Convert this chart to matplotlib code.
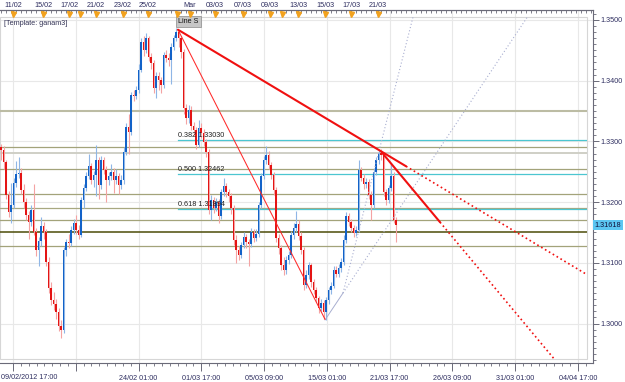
import matplotlib
matplotlib.use('Agg')
import matplotlib.pyplot as plt
import matplotlib.transforms as mtransforms
from matplotlib.patches import Rectangle
from matplotlib.ticker import FixedLocator, MultipleLocator, NullFormatter
import numpy as np

plt.rcParams['font.family'] = ['Liberation Sans', 'DejaVu Sans']

# ---------------- data ----------------
opens = [1.3290, 1.3286, 1.3266, 1.3212, 1.3184, 1.3195, 1.3231, 1.3246, 1.3248, 1.3220,
         1.3200, 1.3179, 1.3167, 1.3187, 1.3151, 1.3121, 1.3136, 1.3161, 1.3151, 1.3101,
         1.3058, 1.3039, 1.3032, 1.3019, 1.2996, 1.2989, 1.3121, 1.3134, 1.3133, 1.3154,
         1.3166, 1.3154, 1.3146, 1.3203, 1.3223, 1.3243, 1.3259, 1.3236, 1.3245, 1.3269,
         1.3228, 1.3269, 1.3253, 1.3236, 1.3243, 1.3250, 1.3236, 1.3243, 1.3228, 1.3236,
         1.3283, 1.3324, 1.3315, 1.3376, 1.3375, 1.3385, 1.3418, 1.3464, 1.3451, 1.3470,
         1.3439, 1.3429, 1.3388, 1.3408, 1.3401, 1.3393, 1.3442, 1.3437, 1.3434, 1.3456,
         1.3470, 1.3480, 1.3470, 1.3447, 1.3355, 1.3339, 1.3352, 1.3325, 1.3319, 1.3294,
         1.3322, 1.3314, 1.3299, 1.3283, 1.3187, 1.3203, 1.3190, 1.3200, 1.3177, 1.3217,
         1.3227, 1.3217, 1.3210, 1.3190, 1.3138, 1.3121, 1.3113, 1.3129, 1.3143, 1.3134,
         1.3131, 1.3151, 1.3141, 1.3147, 1.3195, 1.3243, 1.3269, 1.3278, 1.3261, 1.3245,
         1.3220, 1.3141, 1.3124, 1.3096, 1.3088, 1.3105, 1.3113, 1.3146, 1.3157, 1.3164,
         1.3144, 1.3121, 1.3063, 1.3080, 1.3096, 1.3068, 1.3055, 1.3042, 1.3026, 1.3034,
         1.3019, 1.3039, 1.3055, 1.3062, 1.3088, 1.3082, 1.3091, 1.3101, 1.3138, 1.3177,
         1.3167, 1.3157, 1.3149, 1.3154, 1.3253, 1.3240, 1.3230, 1.3233, 1.3212, 1.3195,
         1.3250, 1.3269, 1.3281, 1.3278, 1.3217, 1.3203, 1.3223, 1.3243, 1.3171]

highs = [1.3296, 1.3292, 1.3270, 1.3218, 1.3231, 1.3240, 1.3268, 1.3274, 1.3256, 1.3230,
         1.3206, 1.3186, 1.3195, 1.3230, 1.3158, 1.3142, 1.3175, 1.3168, 1.3156, 1.3110,
         1.3068, 1.3052, 1.3040, 1.3025, 1.3005, 1.3126, 1.3140, 1.3148, 1.3160, 1.3172,
         1.3178, 1.3162, 1.3208, 1.3230, 1.3250, 1.3280, 1.3264, 1.3252, 1.3294, 1.3274,
         1.3276, 1.3275, 1.3259, 1.3250, 1.3262, 1.3256, 1.3255, 1.3248, 1.3244, 1.3290,
         1.3330, 1.3345, 1.3382, 1.3384, 1.3392, 1.3428, 1.3470, 1.3474, 1.3478, 1.3474,
         1.3446, 1.3434, 1.3414, 1.3415, 1.3406, 1.3448, 1.3450, 1.3445, 1.3462, 1.3476,
         1.3487, 1.3484, 1.3474, 1.3452, 1.3362, 1.3360, 1.3358, 1.3332, 1.3324, 1.3335,
         1.3330, 1.3320, 1.3304, 1.3288, 1.3212, 1.3208, 1.3206, 1.3205, 1.3222, 1.3240,
         1.3232, 1.3222, 1.3215, 1.3195, 1.3145, 1.3128, 1.3135, 1.3150, 1.3148, 1.3140,
         1.3158, 1.3156, 1.3155, 1.3200, 1.3248, 1.3276, 1.3292, 1.3284, 1.3266, 1.3250,
         1.3225, 1.3148, 1.3130, 1.3110, 1.3112, 1.3120, 1.3152, 1.3166, 1.3185, 1.3170,
         1.3150, 1.3126, 1.3088, 1.3102, 1.3100, 1.3074, 1.3060, 1.3046, 1.3040, 1.3038,
         1.3044, 1.3060, 1.3068, 1.3095, 1.3094, 1.3098, 1.3108, 1.3145, 1.3183, 1.3182,
         1.3172, 1.3162, 1.3160, 1.3270, 1.3258, 1.3246, 1.3240, 1.3238, 1.3218, 1.3256,
         1.3275, 1.3286, 1.3287, 1.3282, 1.3222, 1.3228, 1.3265, 1.3250, 1.3176]

lows = [1.3270, 1.3255, 1.3205, 1.3176, 1.3165, 1.3190, 1.3225, 1.3240, 1.3214, 1.3190,
        1.3170, 1.3140, 1.3160, 1.3145, 1.3112, 1.3095, 1.3128, 1.3140, 1.3095, 1.3050,
        1.3030, 1.3022, 1.3008, 1.2988, 1.2976, 1.2985, 1.3112, 1.3125, 1.3128, 1.3148,
        1.3148, 1.3140, 1.3142, 1.3190, 1.3218, 1.3238, 1.3230, 1.3225, 1.3210, 1.3205,
        1.3222, 1.3246, 1.3200, 1.3228, 1.3236, 1.3215, 1.3230, 1.3214, 1.3222, 1.3230,
        1.3278, 1.3280, 1.3310, 1.3366, 1.3370, 1.3380, 1.3414, 1.3440, 1.3446, 1.3432,
        1.3420, 1.3380, 1.3372, 1.3385, 1.3380, 1.3388, 1.3430, 1.3425, 1.3395, 1.3450,
        1.3465, 1.3455, 1.3438, 1.3345, 1.3328, 1.3330, 1.3318, 1.3310, 1.3288, 1.3290,
        1.3305, 1.3292, 1.3275, 1.3180, 1.3170, 1.3182, 1.3185, 1.3165, 1.3172, 1.3210,
        1.3208, 1.3200, 1.3180, 1.3130, 1.3100, 1.3105, 1.3108, 1.3125, 1.3125, 1.3095,
        1.3126, 1.3135, 1.3136, 1.3142, 1.3190, 1.3238, 1.3262, 1.3255, 1.3238, 1.3212,
        1.3135, 1.3115, 1.3088, 1.3080, 1.3082, 1.3098, 1.3108, 1.3140, 1.3150, 1.3138,
        1.3115, 1.3055, 1.3058, 1.3074, 1.3060, 1.3048, 1.3035, 1.3018, 1.3020, 1.3008,
        1.3006, 1.3032, 1.3048, 1.3058, 1.3076, 1.3077, 1.3085, 1.3096, 1.3133, 1.3160,
        1.3150, 1.3142, 1.3144, 1.3150, 1.3234, 1.3222, 1.3224, 1.3205, 1.3170, 1.3190,
        1.3244, 1.3262, 1.3270, 1.3210, 1.3196, 1.3198, 1.3218, 1.3165, 1.3134]

closes = [1.3286, 1.3266, 1.3212, 1.3184, 1.3195, 1.3231, 1.3246, 1.3248, 1.3220, 1.3200,
          1.3179, 1.3167, 1.3187, 1.3151, 1.3121, 1.3136, 1.3161, 1.3151, 1.3101, 1.3058,
          1.3039, 1.3032, 1.3019, 1.2996, 1.2989, 1.3121, 1.3134, 1.3133, 1.3154, 1.3166,
          1.3154, 1.3146, 1.3203, 1.3223, 1.3243, 1.3259, 1.3236, 1.3245, 1.3269, 1.3228,
          1.3269, 1.3253, 1.3236, 1.3243, 1.3250, 1.3236, 1.3243, 1.3228, 1.3236, 1.3283,
          1.3324, 1.3315, 1.3376, 1.3375, 1.3385, 1.3418, 1.3464, 1.3451, 1.3470, 1.3439,
          1.3429, 1.3388, 1.3408, 1.3401, 1.3393, 1.3442, 1.3437, 1.3434, 1.3456, 1.3470,
          1.3480, 1.3470, 1.3447, 1.3355, 1.3339, 1.3352, 1.3325, 1.3319, 1.3294, 1.3322,
          1.3314, 1.3299, 1.3283, 1.3187, 1.3203, 1.3190, 1.3200, 1.3177, 1.3217, 1.3227,
          1.3217, 1.3210, 1.3190, 1.3138, 1.3121, 1.3113, 1.3129, 1.3143, 1.3134, 1.3131,
          1.3151, 1.3141, 1.3147, 1.3195, 1.3243, 1.3269, 1.3278, 1.3261, 1.3245, 1.3220,
          1.3141, 1.3124, 1.3096, 1.3088, 1.3105, 1.3113, 1.3146, 1.3157, 1.3164, 1.3144,
          1.3121, 1.3063, 1.3080, 1.3096, 1.3068, 1.3055, 1.3042, 1.3026, 1.3034, 1.3019,
          1.3039, 1.3055, 1.3062, 1.3088, 1.3082, 1.3091, 1.3101, 1.3138, 1.3177, 1.3167,
          1.3157, 1.3149, 1.3154, 1.3253, 1.3240, 1.3230, 1.3233, 1.3212, 1.3195, 1.3250,
          1.3269, 1.3281, 1.3278, 1.3217, 1.3203, 1.3223, 1.3243, 1.3171, 1.31618]

current_price = 1.31618

# horizontal levels
level_prices = [1.3350, 1.3291, 1.3281, 1.3254, 1.3213, 1.3190, 1.3171, 1.3150, 1.3127]
level_colors = ['#bcbca4', '#a3a37a', '#cfcfc6', '#a3a37a', '#a3a37a', '#a8a880',
                '#a3a37a', '#4c4c08', '#a3a37a']
level_widths = [1.5, 0.9, 1.4, 0.9, 0.9, 0.9, 0.9, 1.1, 0.9]

# fibonacci retracement
fib_high = 1.34869
fib_low = 1.30055
fib_ratios = [0.382, 0.5, 0.618]
fib_start = 70.8

# trend lines: anchor points (bar index, price)
line_s_x = [70.8, 152.3]
line_s_y = [1.3484, 1.3283]
line_s_solid_end = 162.0
line2_x = [152.3, 175.6]
line2_y = [1.3282, 1.3167]
thin_x = [70.8, 129.6]
thin_y = [1.3484, 1.3007]
fanA_x = [129.6, 136.8]
fanA_y = [1.30058, 1.30502]
fanB_x = [136.8, 164.8]
fanB_y = [1.30502, 1.35049]

# axis labels
bottom_tick_pos = [4.8, 29.9, 55.0, 80.1, 105.2, 130.3, 155.4, 180.5, 205.6, 230.7]
bottom_labels = ['', '', '24/02 01:00', '01/03 17:00', '05/03 09:00', '15/03 01:00',
                 '21/03 17:00', '26/03 09:00', '31/03 01:00', '04/04 17:00']
first_label = '09/02/2012 17:00'
top_tick_pos = [4.8, 16.8, 27.2, 38.0, 48.8, 58.8, 75.6, 85.6, 96.8, 107.6, 118.8,
                129.6, 140.0, 150.8]
top_labels = ['11/02', '15/02', '17/02', '21/02', '23/02', '25/02', 'Mar', '03/03',
              '07/03', '09/03', '13/03', '15/03', '17/03', '21/03']
top_marker_pos = top_tick_pos + [31.6, 70.4, 112.4]
y_major = [1.30, 1.31, 1.32, 1.33, 1.34, 1.35]

# ---------------- figure ----------------
W, H = 625, 382
fig = plt.figure(figsize=(W / 100, H / 100), dpi=100)
ax = fig.add_axes([0, (H - 363) / H, 593 / W, 353 / H])
ax.set_xlim(-0.4, 236.8)
ax.set_ylim(1.293493, 1.351647)

txt_col = '#2e2e60'
axis_col = '#6a6a78'
fs = 5.2

# inner border / clip rect
inner = Rectangle((0, 4 / 353), 587 / 593, 342 / 353, transform=ax.transAxes,
                  fill=False, ec='#d6d6d6', lw=0.8, zorder=1)
ax.add_patch(inner)

# grid
for xp in bottom_tick_pos:
    ax.axvline(xp, color='#e8e8e8', lw=0.8, zorder=0)
for yp in y_major:
    ax.axhline(yp, color='#e8e8e8', lw=0.8, zorder=0)

# levels
for p, c, w in zip(level_prices, level_colors, level_widths):
    ln, = ax.plot([-1, 300], [p, p], color=c, lw=w, zorder=2, solid_capstyle='butt')
    ln.set_clip_path(inner)

# fib lines
for r in fib_ratios:
    lv = fib_high - r * (fib_high - fib_low)
    ln, = ax.plot([fib_start, 300], [lv, lv], color='#4cc6d0', lw=0.9, zorder=2.2)
    ln.set_clip_path(inner)
    ax.text(fib_start, lv + 0.00012, f'{r:.3f} {lv:.5f}', fontsize=fs, color='#222222',
            ha='left', va='bottom', zorder=6)

# candles
x = np.arange(len(closes))
o = np.array(opens)
c = np.array(closes)
h = np.array(highs)
l = np.array(lows)
up = c >= o
dn = ~up
body_lo = np.minimum(o, c)
body_h = np.maximum(np.abs(c - o), 0.00014)
ax.vlines(x[up], l[up], h[up], color='#8fb6e6', lw=0.8, zorder=3)
ax.vlines(x[dn], l[dn], h[dn], color='#f4a3a3', lw=0.8, zorder=3)
ax.bar(x[up], body_h[up], bottom=body_lo[up], width=0.76, color='#1262c8', lw=0, zorder=4)
ax.bar(x[dn], body_h[dn], bottom=body_lo[dn], width=0.76, color='#e41414', lw=0, zorder=4)


def line_at(xs, ys, xq):
    k = (ys[1] - ys[0]) / (xs[1] - xs[0])
    return ys[0] + k * (xq - xs[0])


def draw_ray(xs, ys, solid_end, color, lw, dotted_lw, dots=(1, 1.6), solid=True):
    if solid:
        ln, = ax.plot([xs[0], solid_end], [ys[0], line_at(xs, ys, solid_end)],
                      color=color, lw=lw, zorder=5, solid_capstyle='round')
        ln.set_clip_path(inner)
        start = solid_end
    else:
        start = xs[0]
    ln2, = ax.plot([start, 320], [line_at(xs, ys, start), line_at(xs, ys, 320)],
                   color=color, lw=dotted_lw, zorder=5, linestyle=(0, dots))
    ln2.set_clip_path(inner)


# gann-like light lines
draw_ray(fanA_x, fanA_y, fanA_x[1], '#a8aed0', 0.7, 0.8, dots=(1, 2))
draw_ray(fanB_x, fanB_y, fanB_x[0], '#a8aed0', 0.7, 0.8, dots=(1, 2), solid=False)

# thin red line
ax.plot(thin_x, thin_y, color='#ff2a2a', lw=0.75, zorder=5)

# main trend lines
draw_ray(line_s_x, line_s_y, line_s_solid_end, '#f01010', 1.5, 1.2, dots=(1, 1.7))
draw_ray(line2_x, line2_y, line2_x[1], '#f01010', 1.5, 1.2, dots=(1, 1.7))

# "Line S" label
trans_xd_ya = mtransforms.blended_transform_factory(ax.transData, ax.transAxes)
ax.text(line_s_x[0], (363 - 21.5) / 353, 'Line S', transform=trans_xd_ya, fontsize=fs,
        color='#111111', ha='left', va='center', zorder=7,
        bbox=dict(boxstyle='square,pad=0.3', fc='#c6c6c6', ec='#8a8a8a', lw=0.5))

# template label
fig.text(4 / W, 1 - 23.5 / H, '[Template: ganam3]', fontsize=fs, color='#333355',
         ha='left', va='center')

# spines
ax.spines['left'].set_visible(False)
for s in ['top', 'bottom', 'right']:
    ax.spines[s].set_color(axis_col)
    ax.spines[s].set_linewidth(0.8)

# right axis
ax.yaxis.tick_right()
ax.yaxis.set_major_locator(FixedLocator(y_major))
ax.yaxis.set_minor_locator(MultipleLocator(0.001))
ax.set_yticklabels([f'{v:.4f}' for v in y_major])
ax.tick_params(axis='y', which='major', length=4, width=0.7, color=axis_col,
               labelsize=fs, labelcolor=txt_col, pad=1.5)
ax.tick_params(axis='y', which='minor', length=2, width=0.6, color=axis_col)

# bottom axis
ax.xaxis.set_major_locator(FixedLocator(bottom_tick_pos))
minor_b = []
step = (bottom_tick_pos[1] - bottom_tick_pos[0]) / 8
for bp in bottom_tick_pos:
    for k in range(1, 8):
        minor_b.append(bp + k * step)
ax.xaxis.set_minor_locator(FixedLocator(minor_b))
ax.xaxis.set_minor_formatter(NullFormatter())
ax.set_xticklabels(bottom_labels)
ax.tick_params(axis='x', which='major', length=6, width=0.7, color=axis_col,
               labelsize=fs, labelcolor=txt_col, pad=3)
ax.tick_params(axis='x', which='minor', length=2.5, width=0.6, color=axis_col)
ax.text(0.002, -11 / 353, first_label, transform=ax.transAxes, fontsize=fs,
        color=txt_col, ha='left', va='top')

# top axis ruler
axt = ax.twiny()
axt.set_xlim(ax.get_xlim())
for s in ['left', 'right', 'bottom']:
    axt.spines[s].set_visible(False)
axt.spines['top'].set_color(axis_col)
axt.spines['top'].set_linewidth(0.8)
axt.xaxis.set_major_locator(FixedLocator(top_tick_pos))
axt.set_xticklabels(top_labels)
axt.xaxis.set_minor_locator(MultipleLocator(2))
axt.tick_params(axis='x', which='major', direction='in', length=4, width=0.7,
                color=axis_col, labelsize=fs, labelcolor=txt_col, pad=1.0)
axt.tick_params(axis='x', which='minor', direction='in', length=2.2, width=0.6,
                color=axis_col)
axt.plot(top_marker_pos, [(363 - 13.5) / 353] * len(top_marker_pos),
         transform=mtransforms.blended_transform_factory(axt.transData, axt.transAxes),
         marker='v', ms=3.6, color='#f2a21e', ls='none', clip_on=False, zorder=8)

# current price box
trans_xa_yd = mtransforms.blended_transform_factory(ax.transAxes, ax.transData)
ax.text(1.003, current_price, f'{current_price:.5f}', transform=trans_xa_yd,
        fontsize=fs, color='#10103a', ha='left', va='center', zorder=9, clip_on=False,
        bbox=dict(boxstyle='square,pad=0.2', fc='#5cc6f2', ec='none'))

fig.savefig('out.png', dpi=100, facecolor='white')
